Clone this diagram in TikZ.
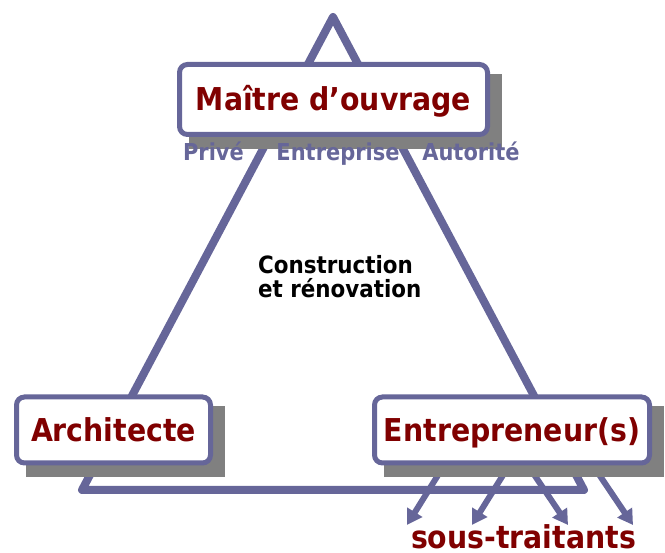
\documentclass[tikz,border=0pt]{standalone}
\usepackage{fontspec}
\setmainfont{DejaVu Sans Condensed}
\usetikzlibrary{arrows.meta,backgrounds}
\definecolor{bleugris}{HTML}{666699}
\definecolor{rougefonce}{HTML}{800000}
\definecolor{ombregris}{HTML}{808080}
\def\ombre(#1){\fill[ombregris] ([shift={(12pt,-12pt)}]#1.south west) rectangle ([shift={(12pt,-12pt)}]#1.north east);}

\begin{document}
\begin{tikzpicture}[x=1pt,y=-1pt,
		boite/.style={draw=bleugris, line width=5pt, fill=white, rounded corners=8pt, inner sep=0pt,
			text=rougefonce, font=\fontsize{31.5pt}{36pt}\selectfont\bfseries, text height=23pt, text depth=0pt},
		etiquette/.style={text=bleugris, font=\fontsize{23.3pt}{26pt}\selectfont\bfseries, anchor=base, inner sep=0pt},
		fleche/.style={draw=bleugris, line width=6pt, -{Triangle[length=15pt,width=17pt]}}]
			%%%%% START %%%%%
			
			\useasboundingbox (0, 0) rectangle (665, 553);
			
			\coordinate (sommet) at (333, 17);
			\coordinate (coinG) at (82, 490);
			\coordinate (coinD) at (584, 490);
			
			\node[boite, minimum width=308pt, minimum height=70pt] (mo) at (333.5, 99.5) {Maître d’ouvrage};
			\node[boite, minimum width=194pt, minimum height=66pt] (archi) at (113.5, 430) {Architecte};
			\node[boite, minimum width=275pt, minimum height=66pt] (entr) at (512, 430) {Entrepreneur(s)};
			
			\node[etiquette] (prive) at (213.5, 161) {Privé};
			\node[etiquette] (entreprise) at (338, 161) {Entreprise};
			\node[etiquette] (autorite) at (471, 161) {Autorité};
			
			\node[anchor=base west, align=left, inner sep=0pt, font=\fontsize{23.8pt}{24pt}\selectfont\bfseries] (constr) at (258, 298) {Construction\\et rénovation};
			
			\coordinate (st1) at (407, 525);
			\coordinate (st2) at (472, 525);
			\coordinate (st3) at (568, 525);
			\coordinate (st4) at (633, 525);
			\node[anchor=base, inner sep=0pt, text=rougefonce, font=\fontsize{31.5pt}{36pt}\selectfont\bfseries] (sous) at (523.5, 549) {sous-traitants};
			
			\begin{scope}[on background layer]
				\draw[bleugris, line width=8pt, line join=round] (sommet) -- (coinG) -- (coinD) -- cycle;
				
				\draw[fleche] ([xshift=-68pt]entr.south) -- (st1);
				\draw[fleche] ([xshift=-3pt]entr.south) -- (st2);
				\draw[fleche] ([xshift=16pt]entr.south) -- (st3);
				\draw[fleche] ([xshift=81pt]entr.south) -- (st4);
				
				\ombre(mo)
				\ombre(archi)
				\ombre(entr)
			\end{scope}
			
			%%%%% END %%%%%
\end{tikzpicture}
\end{document}
